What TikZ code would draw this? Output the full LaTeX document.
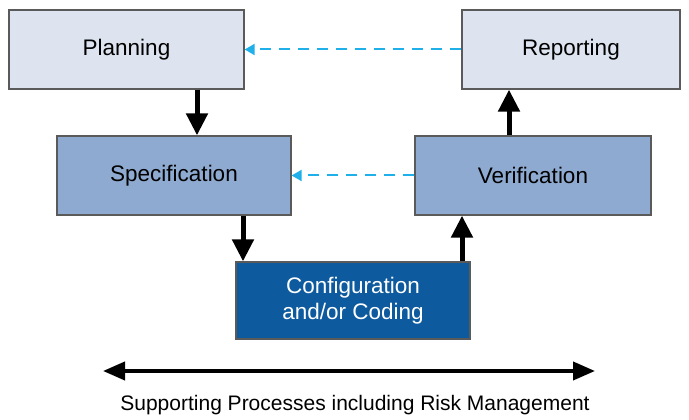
\documentclass[tikz,border=0pt]{standalone}
\usepackage{fontspec}
\setmainfont{Liberation Sans}
\usetikzlibrary{arrows.meta}
\definecolor{lightbox}{HTML}{DDE3EF}
\definecolor{midbox}{HTML}{8EAAD0}
\definecolor{darkbox}{HTML}{0E5A9E}
\definecolor{boxline}{HTML}{5A5A5A}
\definecolor{dashblue}{HTML}{1FB0EA}
\tikzset{
  procbox/.style={draw=boxline, line width=1.3pt, inner sep=0pt, minimum height=79pt, font=\fontsize{22.5}{26.5}\selectfont, align=center},
  flowarrow/.style={line width=5pt, -{Triangle[length=22pt,width=21pt]}},
  backarrow/.style={color=dashblue, line width=2pt, dash pattern=on 11pt off 8pt, -{Triangle[length=10pt,width=11pt]}},
  bigarrow/.style={line width=4pt, {Triangle[length=22pt,width=18pt]}-{Triangle[length=22pt,width=18pt]}}
}
\begin{document}
\begin{tikzpicture}[x=1pt,y=1pt]
\useasboundingbox[fill=white] (0,0) rectangle (689,420);
\node[procbox, fill=lightbox, minimum width=235pt] (plan) at (126.5,370.5) {Planning};
\node[procbox, fill=lightbox, minimum width=218pt] (rep) at (571,370.5) {Reporting};
\node[procbox, fill=midbox, minimum width=234pt] (spec) at (174,244.5) {Specification};
\node[procbox, fill=midbox, minimum width=236pt] (ver) at (533,244.5) {Verification};
\node[procbox, fill=darkbox, text=white, minimum width=234pt, minimum height=77pt] (conf) at (353,119.5) {Configuration\\and/or Coding};
\draw[flowarrow] ([xshift=70.5pt]plan.south) -- ([xshift=70.5pt]plan.south |- spec.north);
\draw[flowarrow] ([xshift=69pt]spec.south) -- ([xshift=69pt]spec.south |- conf.north);
\draw[flowarrow] ([xshift=109pt]conf.north) -- ([xshift=109pt]conf.north |- ver.south);
\draw[flowarrow] ([xshift=-24pt]ver.north) -- ([xshift=-24pt]ver.north |- rep.south);
\draw[backarrow] (rep.west) -- (plan.east);
\draw[backarrow] (ver.west) -- (spec.east);
\coordinate (supL) at (103,49);
\coordinate (supR) at (595,49);
\draw[bigarrow] (supL) -- (supR);
\node[font=\fontsize{21}{25}\selectfont] (sup) at (355,15) {Supporting Processes including Risk Management};
\end{tikzpicture}
\end{document}
